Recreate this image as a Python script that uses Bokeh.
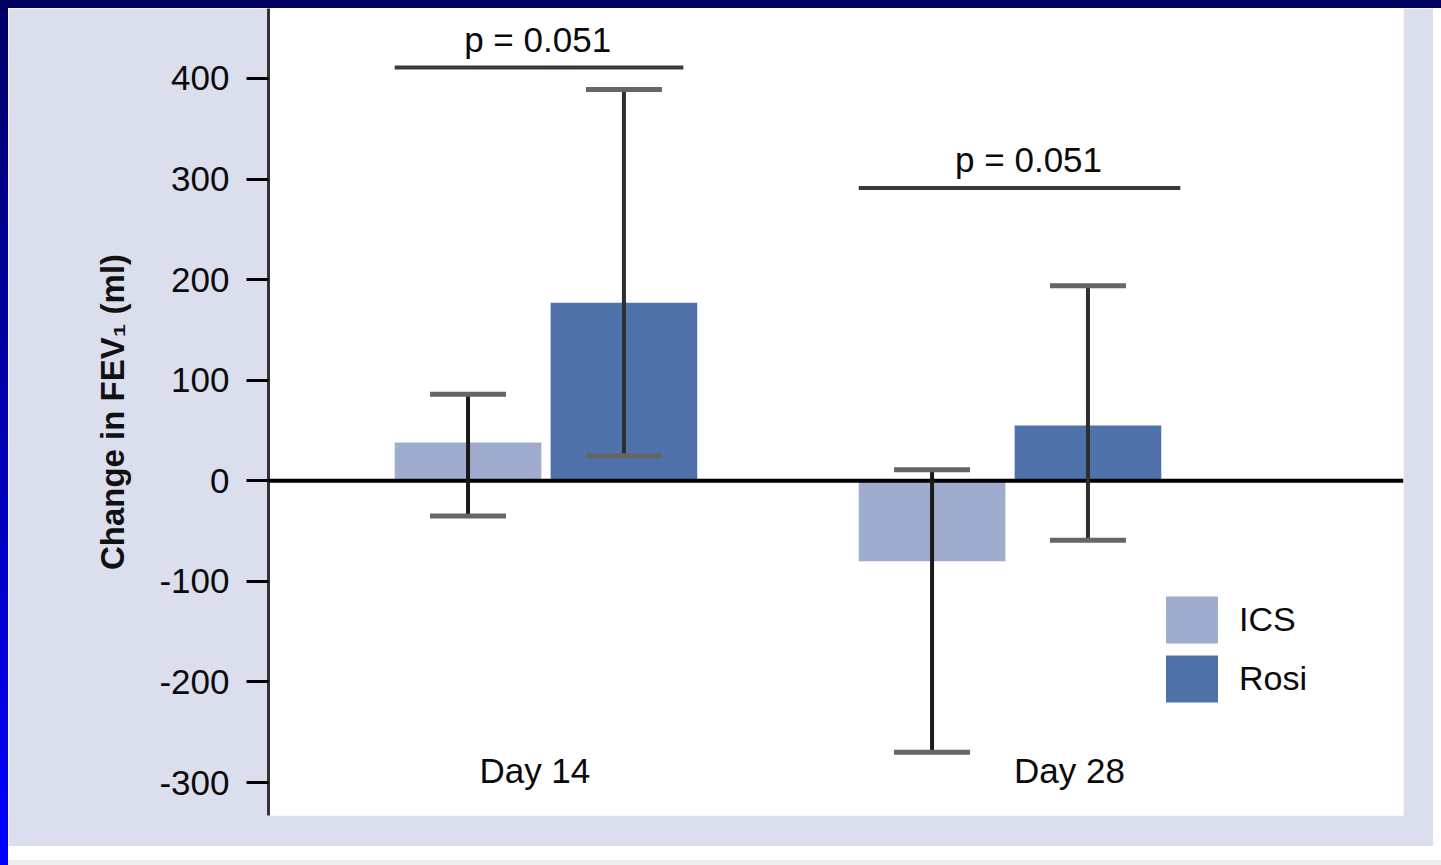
import numpy as np
from bokeh.plotting import figure
from bokeh.models import (ColumnDataSource, Range1d, FixedTicker, Whisker, TeeHead,
                          Span, Legend)
from bokeh.core.properties import value
from bokeh.embed import file_html
from bokeh.resources import INLINE

# ---------------- data ----------------
days = ["Day 14", "Day 28"]
series = ["ICS", "Rosi"]
ics_mean = [38, -80]
ics_upper = [86, 11]
ics_lower = [-35, -270]
rosi_mean = [177, 55]
rosi_upper = [389, 194]
rosi_lower = [25, -59]
p_labels = ["p = 0.051", "p = 0.051"]
y_ticks = [-300, -200, -100, 0, 100, 200, 300, 400]
y_tick_labels = ["-300", "-200", "-100", "0", "100", "200", "300", "400"]

# ---------------- layout / style ----------------
FONT = "Liberation Sans"
ICS_COLOR = "#9FACCE"
ROSI_COLOR = "#5072AB"
BG = "#DADEED"
group_pos = np.arange(1, len(days) + 1, dtype=float)
bar_offset = 0.168
bar_width = 0.316
sig_y = [411, 291]
sig_left = -0.326
sig_right = [0.296, 0.367]
p_dx = [-0.018, 0.040]
p_dy = 28
day_dx = [-0.024, 0.128]
day_y = -288

p = figure(width=1433, height=838,
           x_range=Range1d(0.402, 2.848), y_range=Range1d(-332.8, 469.6),
           output_backend="svg", toolbar_location=None, x_axis_location=None,
           background_fill_color="white", border_fill_color=BG,
           min_border_left=260, min_border_right=38,
           min_border_top=0, min_border_bottom=31)
p.outline_line_color = None
p.grid.grid_line_color = None

ax = p.yaxis[0]
ax.ticker = FixedTicker(ticks=y_ticks)
ax.major_label_overrides = dict(zip(y_ticks, y_tick_labels))
ax.axis_line_color = "#333333"
ax.axis_line_width = 3
ax.major_tick_out = 22
ax.major_tick_in = 0
ax.major_tick_line_width = 3
ax.major_tick_line_color = "black"
ax.minor_tick_line_color = None
ax.major_label_text_font = FONT
ax.major_label_text_font_size = "35px"
ax.major_label_text_color = "#0A0A0A"
ax.major_label_standoff = 17
ax.axis_label = "Change in FEV\u2081 (ml)"
ax.axis_label_text_font = FONT
ax.axis_label_text_font_size = "33px"
ax.axis_label_text_font_style = "bold"
ax.axis_label_text_color = "#111111"
ax.axis_label_standoff = 25

# bars
ics_src = ColumnDataSource(dict(x=group_pos - bar_offset, top=ics_mean,
                                upper=ics_upper, lower=ics_lower))
rosi_src = ColumnDataSource(dict(x=group_pos + bar_offset, top=rosi_mean,
                                 upper=rosi_upper, lower=rosi_lower))
r_ics = p.vbar(x="x", top="top", bottom=0, width=bar_width, source=ics_src,
               fill_color=ICS_COLOR, line_color=None)
r_rosi = p.vbar(x="x", top="top", bottom=0, width=bar_width, source=rosi_src,
                fill_color=ROSI_COLOR, line_color=None)

# zero line
p.add_layout(Span(location=0, dimension="width", line_color="black", line_width=4,
                  level="overlay"))

# error bars
for src, stem in ((ics_src, "#1A1A1A"), (rosi_src, "#2E2E2E")):
    w = Whisker(base="x", upper="upper", lower="lower", source=src,
                line_color=stem, line_width=4, level="overlay",
                upper_head=TeeHead(size=76, line_color="#666666", line_width=5),
                lower_head=TeeHead(size=76, line_color="#666666", line_width=5))
    p.add_layout(w)

# significance brackets
sig_src = ColumnDataSource(dict(
    x0=group_pos + sig_left, x1=group_pos + np.array(sig_right),
    y=sig_y, tx=group_pos + np.array(p_dx),
    ty=np.array(sig_y) + p_dy, text=p_labels))
p.segment(x0="x0", x1="x1", y0="y", y1="y", source=sig_src,
          line_color="#3A3A3A", line_width=4)
p.text(x="tx", y="ty", text="text", source=sig_src, text_font=value(FONT),
       text_font_size="35px", text_align="center", text_baseline="alphabetic",
       text_color="#0A0A0A")

# day labels
day_src = ColumnDataSource(dict(x=group_pos + np.array(day_dx),
                                y=[day_y] * len(days), text=days))
p.text(x="x", y="y", text="text", source=day_src, text_font=value(FONT),
       text_font_size="35px", text_align="center", text_baseline="alphabetic",
       text_color="#0A0A0A")

# legend
legend = Legend(items=[(series[0], [r_ics]), (series[1], [r_rosi])],
                location=(891, 107), orientation="vertical",
                glyph_width=65, glyph_height=59, spacing=0, padding=0, margin=0,
                label_standoff=15, label_text_font=FONT,
                label_text_font_size="34px", label_text_color="#0A0A0A",
                border_line_color=None, background_fill_alpha=0)
p.add_layout(legend)

TEMPLATE = """
{% block postamble %}
<style>
html {
  height: 100%;
  background:
    linear-gradient(#00005E, #00005E) 0 0 / 100% 8px no-repeat,
    linear-gradient(to bottom, #000066, #0000FF) 0 0 / 8px 100% no-repeat,
    linear-gradient(#EEEFEF, #EEEFEF) 0 100% / 100% 5px no-repeat,
    #FFFFFF;
}
body { margin: 8px; }
</style>
{% endblock %}
"""

open("out.html", "w").write(file_html(p, INLINE, template=TEMPLATE))
